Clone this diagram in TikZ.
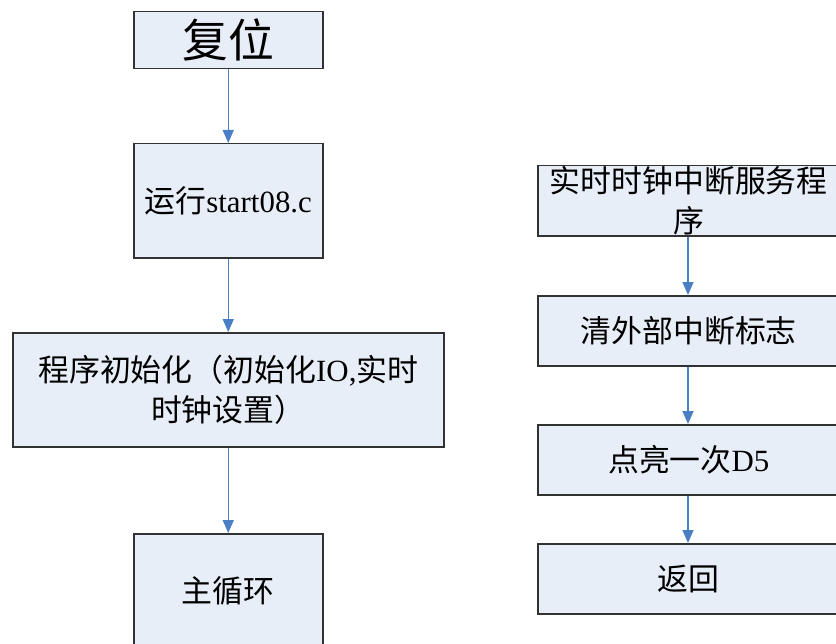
\documentclass[tikz,border=0pt]{standalone}
\usepackage{fontspec}
\setmainfont{Liberation Serif}
\newfontfamily\cjk{Noto Sans CJK SC}
\usetikzlibrary{arrows.meta}
\definecolor{boxfill}{RGB}{232,238,247}
\definecolor{boxline}{RGB}{50,50,50}
\definecolor{arr}{RGB}{74,126,197}
\begin{document}
\begin{tikzpicture}[x=1bp,y=-1bp,
  flowbox/.style={draw=boxline, line width=1.5bp, fill=boxfill, rectangle, inner sep=0pt,
    anchor=north west, align=center, font=\fontsize{31}{40}\selectfont},
  flowarrow/.style={draw=arr, line width=1.4bp, -{Triangle[length=13bp,width=11bp,fill=arr]}}]
\useasboundingbox (0,0) rectangle (836,644);
% left column
\node[flowbox, minimum width=189bp, minimum height=57bp, font=\fontsize{46}{50}\selectfont] (reset) at (133,11) {\cjk 复位};
\node[flowbox, minimum width=189bp, minimum height=114bp] (run) at (133,143) {{\cjk 运行}start08.c};
\node[flowbox, minimum width=431bp, minimum height=114bp] (init) at (12,332) {{\cjk 程序初始化（初始化}IO,{\cjk 实时}\\{\cjk 时钟设置）}};
\node[flowbox, minimum width=189bp, minimum height=114bp] (loop) at (133,533) {\cjk 主循环};
% right column
\node[flowbox, minimum width=302bp, minimum height=70bp] (isr) at (537,165) {{\cjk 实时时钟中断服务程}\\{\cjk 序}};
\node[flowbox, minimum width=302bp, minimum height=70bp] (clr) at (537,295) {\cjk 清外部中断标志};
\node[flowbox, minimum width=302bp, minimum height=70bp] (led) at (537,424) {{\cjk 点亮一次}D5};
\node[flowbox, minimum width=302bp, minimum height=70bp] (ret) at (537,543) {\cjk 返回};
% connectors
\draw[flowarrow] (reset.south) -- (run.north);
\draw[flowarrow] (run.south) -- (init.north -| run.south);
\draw[flowarrow] (init.south -| loop.north) -- (loop.north);
\draw[flowarrow] (isr.south -| 688,0) -- (clr.north -| 688,0);
\draw[flowarrow] (clr.south -| 688,0) -- (led.north -| 688,0);
\draw[flowarrow] (led.south -| 688,0) -- (ret.north -| 688,0);
\end{tikzpicture}
\end{document}
